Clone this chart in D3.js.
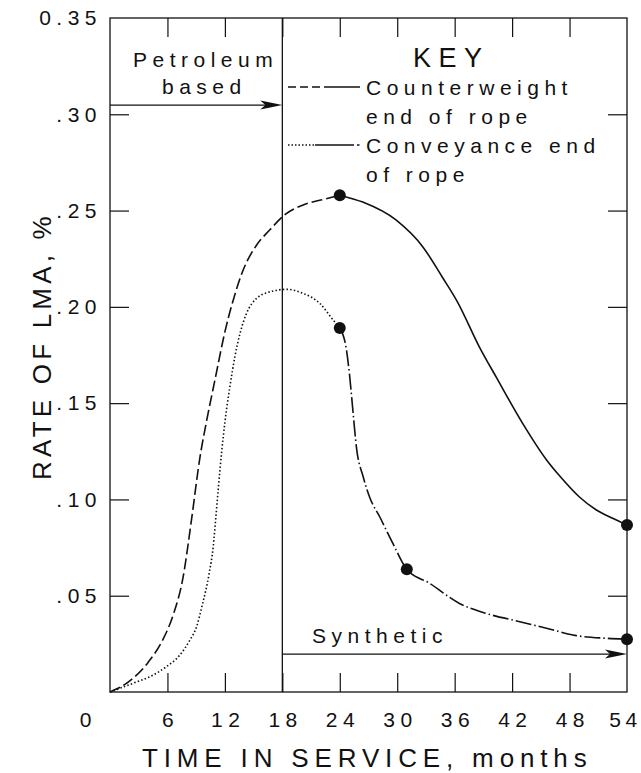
<!DOCTYPE html>
<html>
<head>
<meta charset="utf-8">
<script src="https://cdn.jsdelivr.net/npm/d3@7"></script>
<style>
  body { margin: 0; background: #fff; }
  svg text { font-family: "Liberation Sans", Arial, sans-serif; fill: #111; }
</style>
</head>
<body>
<script>
const xTicks = [0, 6, 12, 18, 24, 30, 36, 42, 48, 54];
const yTicks = [0.05, 0.1, 0.15, 0.2, 0.25, 0.3, 0.35];

// counterweight end: petroleum period (dashed) then synthetic (solid)
const counterweightPetro = [
  [0, 0], [2, 0.0055], [4, 0.0155], [5.5, 0.027], [6.6, 0.04], [7.65, 0.06],
  [8.5, 0.089], [9.4, 0.122], [10.1, 0.141], [11, 0.163], [12, 0.187],
  [12.9, 0.204], [13.9, 0.219], [15.3, 0.232], [16.7, 0.24], [18.3, 0.248],
  [20.5, 0.2535], [22.5, 0.256], [24, 0.258],
];
const counterweightSynth = [
  [24, 0.258], [26.4, 0.2544], [29.9, 0.245], [32.7, 0.231], [34.7, 0.2155],
  [36.3, 0.2025], [38.6, 0.179], [40.4, 0.163], [43.1, 0.1395], [45.6, 0.1205],
  [47, 0.112], [49, 0.1014], [50.8, 0.0945], [52.5, 0.0902], [54, 0.0867],
];

// conveyance end: petroleum (dotted) then synthetic (dash-dot)
const conveyancePetro = [
  [0, 0], [2.4, 0.0045], [4.2, 0.008], [5.9, 0.0132], [7.3, 0.0192],
  [8.35, 0.027], [9.05, 0.034], [9.63, 0.045], [10.36, 0.0616], [10.78, 0.0754],
  [11.06, 0.091], [11.3, 0.105], [11.66, 0.1245], [12, 0.14], [12.52, 0.1585],
  [13.04, 0.174], [13.57, 0.186], [14.26, 0.1966], [15.31, 0.2044], [16.7, 0.2078],
  [18.44, 0.2091], [20.17, 0.207], [21.91, 0.2018], [23.3, 0.1932], [24, 0.189],
];
const conveyanceSynth = [
  [24, 0.189], [24.7, 0.1776], [25.04, 0.1637], [25.39, 0.145], [25.74, 0.127],
  [26.43, 0.112], [27.13, 0.101], [28.17, 0.091], [29.56, 0.077], [31, 0.0637],
  [33.4, 0.0564], [36.5, 0.046], [39.3, 0.0408], [42.8, 0.0365], [46.3, 0.0322],
  [48.35, 0.0296], [51.8, 0.0279], [54, 0.0274],
];

const measured = [[24, 0.258], [54, 0.0867], [24, 0.189], [31, 0.0637], [54, 0.0274]];

const switchMonth = 18;
const petroleumLevel = 0.3048;
const syntheticLevel = 0.0197;

const w = 641;
const h = 773;
const ls = 5.5;

const x = d3.scaleLinear().domain([0, 54]).range([110, 627]);
const y = d3.scaleLinear().domain([0, 0.35]).range([692, 18]);

const svg = d3.select("body").append("svg").attr("width", w).attr("height", h);

// ticks (inward on all four sides)
const axisB = svg.append("g")
  .attr("transform", `translate(0,${y(0)})`)
  .call(d3.axisBottom(x).tickValues(xTicks).tickSize(-19).tickSizeOuter(0).tickPadding(20));
const axisT = svg.append("g")
  .attr("transform", `translate(0,${y(0.35)})`)
  .call(d3.axisTop(x).tickValues(xTicks.slice(1, -1)).tickSize(-19).tickSizeOuter(0).tickFormat(""));
const axisL = svg.append("g")
  .attr("transform", `translate(${x(0)},0)`)
  .call(d3.axisLeft(y).tickValues(yTicks).tickSize(-19).tickSizeOuter(0).tickPadding(8)
    .tickFormat((d) => (d === 0.35 ? "0.35" : d3.format(".2f")(d).slice(1))));
const axisR = svg.append("g")
  .attr("transform", `translate(${x(54)},0)`)
  .call(d3.axisRight(y).tickValues(yTicks.slice(0, -1)).tickSize(-19).tickSizeOuter(0).tickFormat(""));

svg.selectAll(".domain").remove();
svg.selectAll(".tick line").attr("stroke", "#111").attr("stroke-width", 1.2);
axisB.selectAll(".tick").filter((d) => d === 0 || d === 54).select("line").remove();
axisL.selectAll(".tick").filter((d) => d === 0.35).select("line").remove();

svg.selectAll(".tick text")
  .attr("fill", "#111")
  .style("font-size", "21px")
  .style("font-family", '"Liberation Sans", Arial, sans-serif')
  .attr("letter-spacing", ls);
axisB.selectAll(".tick text").attr("dx", ls / 2);
axisB.selectAll(".tick").filter((d) => d === 0).select("text").attr("dx", -25 + ls / 2);
axisB.selectAll(".tick").filter((d) => d === 54).select("text").attr("dx", -2).attr("letter-spacing", 4.5);

// frame and the 18-month divider
svg.append("rect")
  .attr("x", x(0)).attr("y", y(0.35))
  .attr("width", x(54) - x(0)).attr("height", y(0) - y(0.35))
  .attr("fill", "none").attr("stroke", "#111").attr("stroke-width", 1.3);
svg.append("line")
  .attr("x1", x(switchMonth)).attr("x2", x(switchMonth))
  .attr("y1", y(0)).attr("y2", y(0.35))
  .attr("stroke", "#111").attr("stroke-width", 1.3);

// period arrows
function arrow(x1, x2, yy) {
  svg.append("line")
    .attr("x1", x1).attr("x2", x2 - 10).attr("y1", yy).attr("y2", yy)
    .attr("stroke", "#111").attr("stroke-width", 1.3);
  svg.append("path")
    .attr("d", `M${x2},${yy} L${x2 - 22},${yy - 4.5} L${x2 - 17},${yy} L${x2 - 22},${yy + 4.5} Z`)
    .attr("fill", "#111");
}
arrow(x(0), x(switchMonth), y(petroleumLevel));
arrow(x(switchMonth), x(54), y(syntheticLevel));

const txt = (s, tx, ty, size, spacing, anchor) =>
  svg.append("text")
    .attr("x", tx).attr("y", ty)
    .attr("text-anchor", anchor || "start")
    .attr("letter-spacing", spacing)
    .style("font-size", size + "px")
    .text(s);

txt("Petroleum", 133, 67, 21, ls);
txt("based", 162, 94, 21, ls);
txt("Synthetic", 312, 643, 21, ls);

// key
txt("KEY", 413, 67, 27, 7.5);
txt("Counterweight", 366, 95, 21, ls);
txt("end of rope", 366, 124, 21, ls);
txt("Conveyance end", 366, 153, 21, ls);
txt("of rope", 366, 182, 21, ls);

const keyLine = (x1, x2, yy, dash) =>
  svg.append("line")
    .attr("x1", x1).attr("x2", x2).attr("y1", yy).attr("y2", yy)
    .attr("stroke", "#111").attr("stroke-width", 1.5)
    .attr("stroke-dasharray", dash);
keyLine(288, 325, 87, "8,4");
keyLine(325, 360, 87, null);
keyLine(288, 314, 145, "1.5,2");
keyLine(315, 354, 145, null);
keyLine(357, 359.5, 145, null);

// curves
const line = d3.line()
  .x((d) => x(d[0]))
  .y((d) => y(d[1]))
  .curve(d3.curveMonotoneX);

const series = [
  { data: counterweightPetro, dash: "11,4" },
  { data: counterweightSynth, dash: null },
  { data: conveyancePetro, dash: "1.5,2.2" },
  { data: conveyanceSynth, dash: "16,3,1.5,3" },
];
svg.selectAll("path.curve")
  .data(series)
  .enter()
  .append("path")
  .attr("class", "curve")
  .attr("d", (d) => line(d.data))
  .attr("fill", "none")
  .attr("stroke", "#111")
  .attr("stroke-width", 1.6)
  .attr("stroke-dasharray", (d) => d.dash);

svg.selectAll("circle")
  .data(measured)
  .enter()
  .append("circle")
  .attr("cx", (d) => x(d[0]))
  .attr("cy", (d) => y(d[1]))
  .attr("r", 6)
  .attr("fill", "#111");

// axis titles
txt("TIME IN SERVICE, months", 142, 767, 26, 5.85);
svg.append("text")
  .attr("transform", "translate(51,346) rotate(-90)")
  .attr("text-anchor", "middle")
  .attr("letter-spacing", 4.2)
  .style("font-size", "26px")
  .text("RATE OF LMA, %");
</script>
</body>
</html>
